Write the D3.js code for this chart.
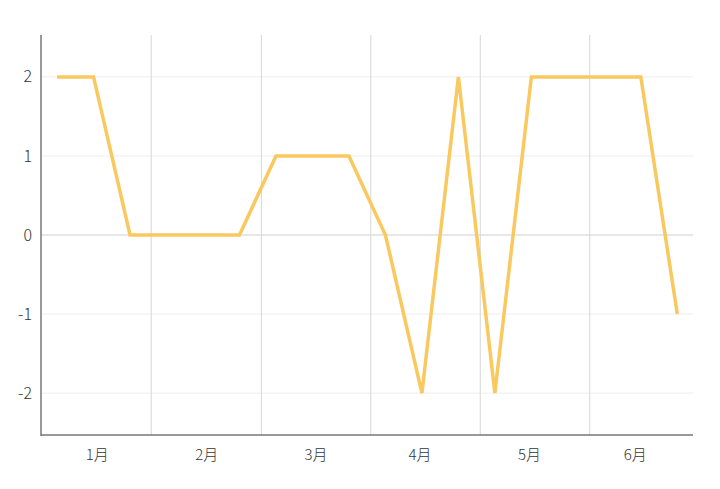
<!DOCTYPE html>
<html>
<head>
<meta charset="utf-8">
<script src="https://cdn.jsdelivr.net/npm/d3@7"></script>
<style>
  html, body { margin: 0; padding: 0; background: #fff; }
  svg { display: block; }
</style>
</head>
<body>
<div id="chart"></div>
<script>
(() => {
  const width = 720;
  const height = 489;

  // data
  const values = [2, 2, 0, 0, 0, 0, 1, 1, 1, 0, -2, 2, -2, 2, 2, 2, 2, -1];
  const monthLabels = ["1月", "2月", "3月", "4月", "5月", "6月"];
  const monthLabelAt = [1.1, 4.1, 7.1, 9.95, 12.95, 15.85]; // index of the label's point
  const monthBreaks = [2.58, 5.6, 8.6, 11.6, 14.6];        // separators between months (index units)
  const yTicks = [-2, -1, 0, 1, 2];

  const x = d3.scaleLinear().domain([-0.44, 17.43]).range([41, 693]);
  const y = d3.scaleLinear().domain([-2.53, 2.53]).range([435, 35]);

  const svg = d3.select("#chart")
    .append("svg")
    .attr("width", width)
    .attr("height", height)
    .attr("viewBox", `0 0 ${width} ${height}`);

  // horizontal grid
  svg.append("g")
    .selectAll("line")
    .data(yTicks)
    .join("line")
    .attr("x1", x.range()[0])
    .attr("x2", x.range()[1])
    .attr("y1", d => y(d))
    .attr("y2", d => y(d))
    .attr("stroke", d => d === 0 ? "#cfcfcf" : "#ededed")
    .attr("stroke-width", 1);

  // vertical month separators
  svg.append("g")
    .selectAll("line")
    .data(monthBreaks)
    .join("line")
    .attr("x1", d => x(d))
    .attr("x2", d => x(d))
    .attr("y1", y.range()[1])
    .attr("y2", y.range()[0])
    .attr("stroke", "#d6d6d6")
    .attr("stroke-width", 1);

  // axes lines
  svg.append("line")
    .attr("x1", 41).attr("x2", 41)
    .attr("y1", y.range()[1]).attr("y2", y.range()[0] + 1)
    .attr("stroke", "#777").attr("stroke-width", 1.5);
  svg.append("line")
    .attr("x1", 41).attr("x2", x.range()[1])
    .attr("y1", y.range()[0]).attr("y2", y.range()[0])
    .attr("stroke", "#777").attr("stroke-width", 1.5);

  const font = "'Noto Sans CJK SC', sans-serif";

  // y labels
  svg.append("g")
    .attr("font-family", font)
    .attr("font-size", 16)
    .attr("font-weight", 300)
    .attr("fill", "#333")
    .attr("text-anchor", "end")
    .selectAll("text")
    .data(yTicks)
    .join("text")
    .attr("x", 32)
    .attr("y", d => y(d))
    .attr("dy", "0.35em")
    .text(d => d);

  // x labels
  svg.append("g")
    .attr("font-family", font)
    .attr("font-size", 15)
    .attr("font-weight", 300)
    .attr("fill", "#333")
    .attr("text-anchor", "middle")
    .selectAll("text")
    .data(monthLabels)
    .join("text")
    .attr("x", (d, i) => x(monthLabelAt[i]))
    .attr("y", 455)
    .attr("dy", "0.35em")
    .text(d => d);

  // line
  const line = d3.line()
    .x((d, i) => x(i))
    .y(d => y(d));

  svg.append("path")
    .datum(values)
    .attr("fill", "none")
    .attr("stroke", "#f9c95f")
    .attr("stroke-width", 3.5)
    .attr("stroke-linejoin", "miter")
    .attr("d", line);
})();
</script>
</body>
</html>
